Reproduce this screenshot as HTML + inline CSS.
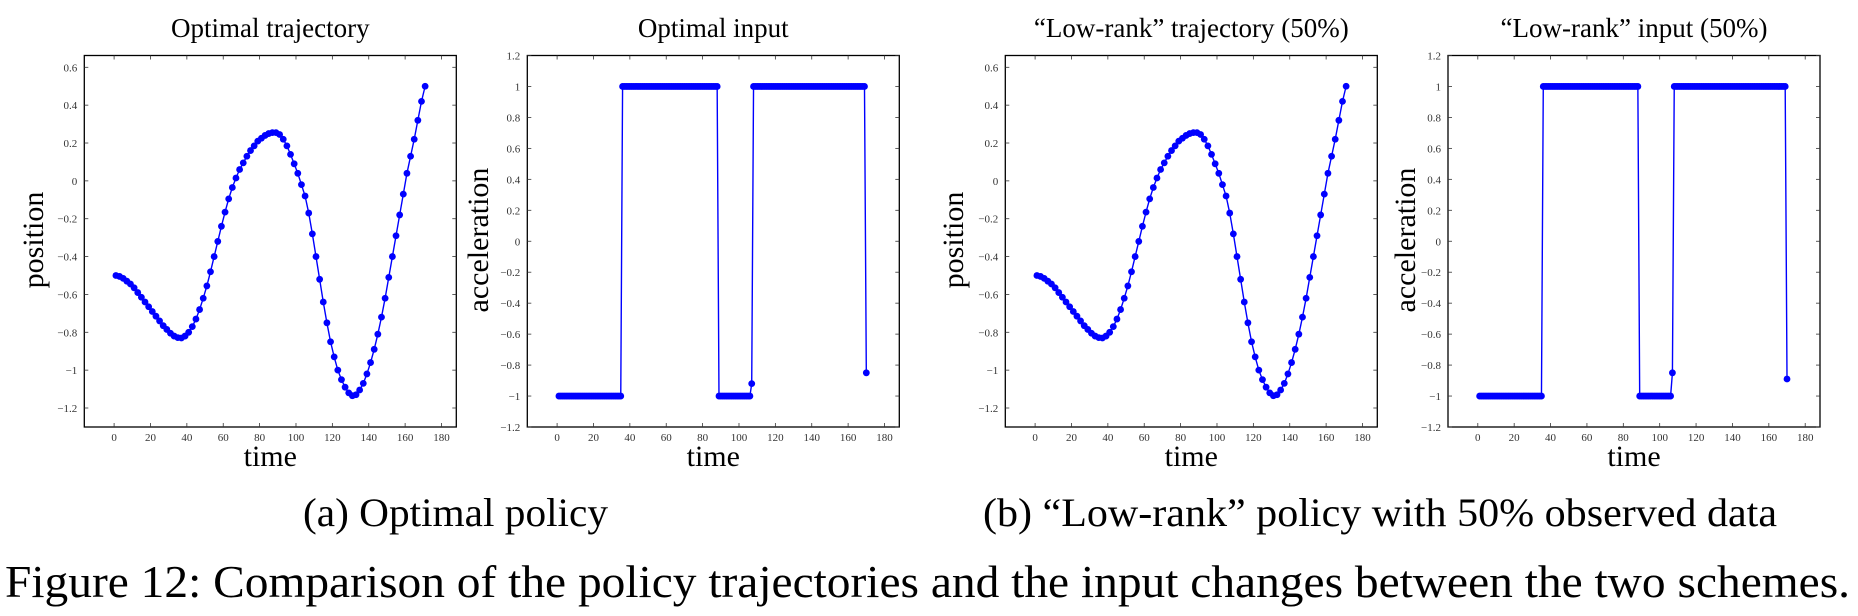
<!DOCTYPE html>
<html><head><meta charset="utf-8"><style>
html,body{margin:0;padding:0;background:#fff;}
svg{display:block;font-family:"Liberation Serif",serif;}
</style></head><body>
<svg id="fig" width="1858" height="616" viewBox="0 0 1858 616" xmlns="http://www.w3.org/2000/svg">
<text x="303" y="526" font-size="40" textLength="305" lengthAdjust="spacingAndGlyphs">(a) Optimal policy</text>
<text x="983" y="526" font-size="40" textLength="794" lengthAdjust="spacingAndGlyphs">(b) “Low-rank” policy with 50% observed data</text>
<text x="5" y="597" font-size="46" textLength="1845" lengthAdjust="spacingAndGlyphs">Figure 12: Comparison of the policy trajectories and the input changes between the two schemes.</text>
</svg>
<script>
// Data
const trajTimes = [1,3,5,7,9,11,13,15,17,19,21,23,25,27,29,31,33,35,37,39,41,43,45,47,49,51,53,55,57,59,61,63,65,67,69,71,73,75,77,79,81,83,85,87,89,91,93,95,97,99,101,103,105,107,109,111,113,115,117,119,121,123,125,127,129,131,133,135,137,139,141,143,145,147,149,151,153,155,157,159,161,163,165,167,169,171];
const trajOptimal = [-0.5,-0.505,-0.515,-0.53,-0.545,-0.565,-0.59,-0.615,-0.64,-0.665,-0.69,-0.715,-0.74,-0.765,-0.785,-0.805,-0.82,-0.828,-0.83,-0.82,-0.8,-0.77,-0.73,-0.68,-0.62,-0.555,-0.48,-0.4,-0.32,-0.24,-0.165,-0.095,-0.035,0.015,0.06,0.095,0.13,0.16,0.185,0.21,0.225,0.24,0.25,0.255,0.255,0.245,0.22,0.185,0.14,0.09,0.04,-0.02,-0.08,-0.17,-0.28,-0.4,-0.52,-0.64,-0.75,-0.85,-0.93,-1.0,-1.05,-1.09,-1.12,-1.135,-1.13,-1.105,-1.07,-1.02,-0.96,-0.89,-0.81,-0.72,-0.62,-0.51,-0.4,-0.29,-0.18,-0.07,0.04,0.13,0.22,0.32,0.42,0.5];
const trajLowRank = [-0.5,-0.505,-0.515,-0.53,-0.545,-0.565,-0.59,-0.615,-0.64,-0.665,-0.69,-0.715,-0.74,-0.765,-0.785,-0.805,-0.82,-0.828,-0.83,-0.82,-0.8,-0.77,-0.73,-0.68,-0.62,-0.555,-0.48,-0.4,-0.32,-0.24,-0.165,-0.095,-0.035,0.015,0.06,0.095,0.13,0.16,0.185,0.21,0.225,0.24,0.25,0.255,0.255,0.245,0.22,0.185,0.14,0.09,0.04,-0.02,-0.08,-0.17,-0.28,-0.4,-0.52,-0.64,-0.75,-0.85,-0.93,-1.0,-1.05,-1.09,-1.12,-1.135,-1.13,-1.105,-1.07,-1.02,-0.96,-0.89,-0.81,-0.72,-0.62,-0.51,-0.4,-0.29,-0.18,-0.07,0.04,0.13,0.22,0.32,0.42,0.5];
// input runs: start time, end time, value
const inputOptStart = [1,36,89,107,108,170];
const inputOptEnd   = [35,88,106,107,169,170];
const inputOptValue = [-1,1,-1,-0.92,1,-0.85];
const inputLrStart = [1,36,89,107,108,170];
const inputLrEnd   = [35,88,106,107,169,170];
const inputLrValue = [-1,1,-1,-0.85,1,-0.89];
const xTicks = [0,20,40,60,80,100,120,140,160,180];
const posTicks = [0.6,0.4,0.2,0,-0.2,-0.4,-0.6,-0.8,-1,-1.2];
const accTicks = [1.2,1,0.8,0.6,0.4,0.2,0,-0.2,-0.4,-0.6,-0.8,-1,-1.2];

const NS='http://www.w3.org/2000/svg';
const svg=document.getElementById('fig');
function mk(tag,attrs,parent){const e=document.createElementNS(NS,tag);for(const k in attrs)e.setAttribute(k,attrs[k]);(parent||svg).appendChild(e);return e;}
function fmt(v){let s=String(Math.round(v*10)/10);return s.replace('-','\u2212');}

function plot(cfg){
  const g=mk('g',{});
  
  
  const L=cfg.left,R=cfg.left+372,T=55.5,B=427;
  const x0=L+29.8, xs=(R-L-29.8-14.8)/180;
  const X=t=>x0+t*xs;
  const Y=v=>cfg.yTop+(cfg.yMax-v)/(cfg.yMax-cfg.yMin)*(cfg.yBot-cfg.yTop);
  const box=mk('rect',{x:L,y:T,width:R-L,height:B-T,fill:'none',stroke:'#000','stroke-width':1.3},g);
  
  
  xTicks.forEach(t=>{
    const x=X(t);
    mk('line',{x1:x,x2:x,y1:B,y2:B-4,stroke:'#333','stroke-width':0.8},g);
    mk('line',{x1:x,x2:x,y1:T,y2:T+4,stroke:'#333','stroke-width':0.8},g);
    const tx=mk('text',{x:x,y:B+14,'font-size':11,'text-anchor':'middle',fill:'#333'},g);
    tx.textContent=fmt(t);
    
    
  });
  cfg.ticks.forEach(v=>{
    const y=Y(v);
    mk('line',{x1:L,x2:L+4,y1:y,y2:y,stroke:'#333','stroke-width':0.8},g);
    mk('line',{x1:R,x2:R-4,y1:y,y2:y,stroke:'#333','stroke-width':0.8},g);
    const tx=mk('text',{x:L-7,y:y+4,'font-size':11,'text-anchor':'end',fill:'#333'},g);
    tx.textContent=fmt(v);
    
    
  });
  const pts=cfg.times.map((t,i)=>[X(t),Y(cfg.vals[i])]);
  const line=mk('polyline',{points:pts.map(p=>p.join(',')).join(' '),fill:'none',stroke:'#0000ff','stroke-width':1.4},g);
  
  
  pts.forEach(p=>{
    const c=mk('circle',{cx:p[0],cy:p[1],r:3.4,fill:'#0000ff'},g);
    
    
  });
  const ti=mk('text',{x:(L+R)/2,y:37,'font-size':27,'text-anchor':'middle'},g);
  ti.textContent=cfg.title;
  
  
  const xl=mk('text',{x:(L+R)/2,y:466,'font-size':30,'text-anchor':'middle'},g);
  xl.textContent='time';
  
  
  const yx=cfg.ylx, yc=240;
  const yl=mk('text',{x:yx,y:yc,'font-size':30,'text-anchor':'middle',transform:`rotate(-90 ${yx} ${yc})`},g);
  yl.textContent=cfg.ylabel;
  
  
}
function expand(st,en,va){const t=[],v=[];st.forEach((s,i)=>{for(let k=s;k<=en[i];k++){t.push(k);v.push(va[i]);}});return [t,v];}

plot({name:'chart-optimal-trajectory',left:84.3,title:'Optimal trajectory',ylabel:'position',ylx:43,ticks:posTicks,yMax:0.6,yMin:-1.2,yTop:67.3,yBot:408,times:trajTimes,vals:trajOptimal});
const io=expand(inputOptStart,inputOptEnd,inputOptValue);
plot({name:'chart-optimal-input',left:527.3,title:'Optimal input',ylabel:'acceleration',ylx:488,ticks:accTicks,yMax:1.2,yMin:-1.2,yTop:55.5,yBot:427,times:io[0],vals:io[1]});
plot({name:'chart-lowrank-trajectory',left:1005.3,title:'“Low-rank” trajectory (50%)',ylabel:'position',ylx:963,ticks:posTicks,yMax:0.6,yMin:-1.2,yTop:67.3,yBot:408,times:trajTimes,vals:trajLowRank});
const il=expand(inputLrStart,inputLrEnd,inputLrValue);
plot({name:'chart-lowrank-input',left:1448,title:'“Low-rank” input (50%)',ylabel:'acceleration',ylx:1415,ticks:accTicks,yMax:1.2,yMin:-1.2,yTop:55.5,yBot:427,times:il[0],vals:il[1]});
</script>
</body></html>
